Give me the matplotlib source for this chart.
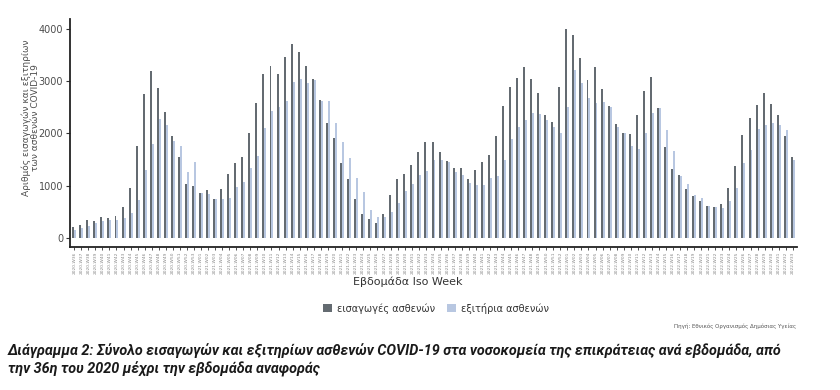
import matplotlib
matplotlib.use("Agg")
import matplotlib.pyplot as plt
import numpy as np
from matplotlib.patches import Patch

# ISO weeks from 2020-W36 up to 2022-W33
weeks = ([f"2020-W{w:02d}" for w in range(36, 54)]
         + [f"2021-W{w:02d}" for w in range(1, 53)]
         + [f"2022-W{w:02d}" for w in range(1, 34)])

admissions = [
    200, 250, 350, 330, 400, 380, 425, 590, 950, 1750,
    2750, 3190, 2860, 2400, 1940, 1540, 1030, 1000, 860, 920,
    745, 930, 1225, 1440, 1545, 2000, 2570, 3130, 3295, 3130,
    3465, 3700, 3560, 3295, 3035, 2645, 2195, 1905, 1440, 1130,
    748, 458, 366, 285, 458, 820, 1127, 1228, 1388, 1635,
    1835, 1835, 1635, 1462, 1336, 1336, 1127, 1290, 1442, 1588,
    1952, 2525, 2888, 3054, 3275, 3035, 2765, 2355, 2225, 2888,
    3990, 3870, 3435, 3028, 3270, 2837, 2525, 2182, 2003, 1991,
    2352, 2810, 3071, 2480, 1732, 1320, 1194, 933, 794, 698,
    616, 590, 654, 952, 1365, 1968, 2286, 2540, 2775, 2559,
    2350, 1949, 1540,
]

discharges = [
    160, 190, 220, 285, 320, 350, 350, 380, 470, 730,
    1300, 1800, 2280, 2160, 1845, 1758, 1252, 1442, 850, 835,
    745, 735, 770, 982, 1075, 1340, 1565, 2105, 2420, 2510,
    2620, 2988, 3038, 2955, 3020, 2622, 2622, 2190, 1825, 1528,
    1150, 872, 528, 400, 400, 495, 673, 890, 1038, 1208,
    1272, 1495, 1495, 1448, 1250, 1208, 1049, 1018, 1018, 1150,
    1192, 1495, 1888, 2112, 2257, 2397, 2370, 2258, 2128, 2009,
    2494, 3203, 2956, 2683, 2576, 2606, 2504, 2120, 2002, 1748,
    1700, 2009, 2385, 2480, 2066, 1652, 1178, 1029, 825, 762,
    603, 590, 571, 698, 952, 1428, 1682, 2076, 2159, 2190,
    2159, 2063, 1492,
]

yticks = [0, 1000, 2000, 3000, 4000]

dark = "#646b71"
light = "#b8c7e1"
grey_txt = "#4d4d4d"

fig = plt.figure(figsize=(8.4, 3.9), dpi=100)
ax = fig.add_axes([70 / 840, 1 - 246.5 / 390, 727 / 840, 227.5 / 390])

x = np.arange(len(weeks))
w = 0.28
ax.bar(x - w / 2, admissions, width=w, color=dark, linewidth=0)
ax.bar(x + w / 2, discharges, width=w, color=light, linewidth=0)

ax.set_xlim(-0.6, len(weeks) - 0.4)
ax.set_ylim(-165, 4185)
ax.set_yticks(yticks)
ax.set_yticklabels([str(v) for v in yticks], fontsize=7, color=grey_txt)
ax.set_xticks(x)
ax.set_xticklabels(weeks, rotation=90, fontsize=3.2, color="#888888")
ax.tick_params(axis="x", length=2, width=0.6, pad=1.5, color="#333333")
ax.tick_params(axis="y", length=3, width=0.8, pad=2, color="#333333")

for side in ["top", "right"]:
    ax.spines[side].set_visible(False)
for side in ["left", "bottom"]:
    ax.spines[side].set_linewidth(1.3)
    ax.spines[side].set_color("#222222")

fig.text(31 / 840, 1 - 118 / 390,
         "Αριθμός εισαγωγών και εξιτηρίων\nτων ασθενών COVID-19",
         rotation=90, ha="center", va="center", fontsize=6.5,
         color=grey_txt, linespacing=0.95)

fig.text(408 / 840, 1 - 282 / 390, "Εβδομάδα Iso Week",
         ha="center", va="center", fontsize=8, color="#333333")

handles = [Patch(facecolor=dark, edgecolor="none"),
           Patch(facecolor=light, edgecolor="none")]
fig.legend(handles, ["εισαγωγές ασθενών", "εξιτήρια ασθενών"],
           loc="center", bbox_to_anchor=(436 / 840, 1 - 308 / 390),
           ncol=2, frameon=False, fontsize=7, handlelength=0.9,
           handleheight=0.9, handletextpad=0.5, columnspacing=1.2,
           labelcolor="#333333")

fig.text(796 / 840, 1 - 326 / 390, "Πηγή: Εθνικός Οργανισμός Δημόσιας Υγείας",
         ha="right", va="center", fontsize=4, color="#555555")

cap_font = ["Roboto", "DejaVu Sans"]
fig.text(8 / 840, 1 - 351 / 390,
         "Διάγραμμα 2: Σύνολο εισαγωγών και εξιτηρίων ασθενών COVID-19 "
         "στα νοσοκομεία της επικράτειας ανά εβδομάδα, από",
         ha="left", va="center", fontsize=10.4, fontweight="bold",
         style="italic", family=cap_font, color="#1a1a1a")
fig.text(8 / 840, 1 - 369 / 390,
         "την 36η του 2020 μέχρι την εβδομάδα αναφοράς",
         ha="left", va="center", fontsize=10.4, fontweight="bold",
         style="italic", family=cap_font, color="#1a1a1a")

fig.savefig("out.png", dpi=100)
